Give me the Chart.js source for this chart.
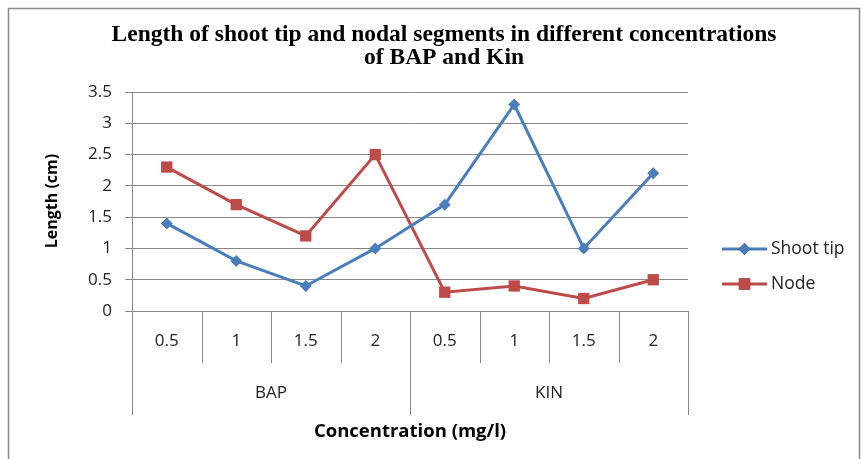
<!DOCTYPE html>
<html>
<head>
<meta charset="utf-8">
<title>Length of shoot tip and nodal segments</title>
<script src="https://cdn.jsdelivr.net/npm/chart.js@4"></script>
<style>
  html, body { margin: 0; padding: 0; background: #ffffff; }
  canvas { display: block; }
</style>
</head>
<body>
<canvas id="lengthChart" width="866" height="459"></canvas>
<script>
// concentrations (mg/l) for each growth regulator
const concentrations = ['0.5', '1', '1.5', '2', '0.5', '1', '1.5', '2'];
const hormones = ['BAP', 'KIN'];
const perHormone = 4;

// mean length (cm)
const shootTipLength = [1.4, 0.8, 0.4, 1.0, 1.7, 3.3, 1.0, 2.2];
const nodeLength = [2.3, 1.7, 1.2, 2.5, 0.3, 0.4, 0.2, 0.5];

const chartTitle = ['Length of shoot tip and nodal segments in different concentrations', 'of BAP and Kin'];
const yTitle = 'Length (cm)';
const xTitle = 'Concentration (mg/l)';

const AXIS_GREY = '#878787';
const LABEL_FONT = '"Open Sans", sans-serif';

const decorations = {
  id: 'decorations',
  beforeDraw(chart) {
    const ctx = chart.ctx;
    ctx.save();
    ctx.strokeStyle = '#8a8a8a';
    ctx.lineWidth = 1.5;
    ctx.strokeRect(8.5, 8.5, 851, 470);
    ctx.restore();
  },
  afterDraw(chart) {
    const ctx = chart.ctx;
    const x = chart.scales.x;
    const area = chart.chartArea;
    const step = x.getPixelForValue(1) - x.getPixelForValue(0);
    const edge = (i) => x.getPixelForValue(0) - step / 2 + i * step;

    ctx.save();
    // main title
    ctx.fillStyle = '#000000';
    ctx.textAlign = 'center';
    ctx.textBaseline = 'middle';
    ctx.font = 'bold 23.5px "Liberation Serif", serif';
    ctx.fillText(chartTitle[0], 444, 35);
    ctx.fillText(chartTitle[1], 444, 58);

    // two-level category axis
    const rowBottom = area.bottom + 52;
    const groupBottom = area.bottom + 104;
    ctx.strokeStyle = AXIS_GREY;
    ctx.lineWidth = 1;
    for (let i = 0; i <= concentrations.length; i++) {
      const px = Math.round(edge(i)) + 0.5;
      ctx.beginPath();
      ctx.moveTo(px, area.bottom);
      ctx.lineTo(px, i % perHormone === 0 ? groupBottom : rowBottom);
      ctx.stroke();
    }
    ctx.fillStyle = '#222222';
    ctx.font = '17px ' + LABEL_FONT;
    concentrations.forEach((c, i) => {
      ctx.fillText(c, x.getPixelForValue(i), area.bottom + 30);
    });
    hormones.forEach((h, g) => {
      const mid = (edge(g * perHormone) + edge((g + 1) * perHormone)) / 2;
      ctx.fillText(h, mid, area.bottom + 82);
    });

    // axis titles
    ctx.fillStyle = '#000000';
    ctx.font = 'bold 18.5px ' + LABEL_FONT;
    ctx.fillText(xTitle, (area.left + area.right) / 2, 432);
    ctx.font = 'bold 16px ' + LABEL_FONT;
    ctx.save();
    ctx.translate(52, 201);
    ctx.rotate(-Math.PI / 2);
    ctx.fillText(yTitle, 0, 0);
    ctx.restore();

    // legend: line with marker, then the series name
    const rows = [249, 284];
    chart.data.datasets.forEach((ds, i) => {
      const y = rows[i];
      ctx.strokeStyle = ds.borderColor;
      ctx.lineWidth = 3;
      ctx.beginPath();
      ctx.moveTo(722, y);
      ctx.lineTo(767, y);
      ctx.stroke();
      Chart.helpers.drawPoint(ctx, {
        pointStyle: ds.pointStyle,
        radius: ds.pointRadius,
        borderWidth: 0
      }, 744.5, y);
      ctx.fillStyle = ds.backgroundColor;
      ctx.fill();
      ctx.fillStyle = '#222222';
      ctx.textAlign = 'left';
      ctx.font = '17.5px ' + LABEL_FONT;
      ctx.fillText(ds.label, 771, y);
    });
    ctx.restore();
  }
};

new Chart(document.getElementById('lengthChart'), {
  type: 'line',
  data: {
    labels: concentrations,
    datasets: [
      {
        label: 'Shoot tip',
        data: shootTipLength,
        borderColor: '#4a7ebb',
        backgroundColor: '#4a7ebb',
        borderWidth: 3,
        pointStyle: 'rectRot',
        pointRadius: 6,
        pointBorderWidth: 0,
        tension: 0
      },
      {
        label: 'Node',
        data: nodeLength,
        borderColor: '#be4b48',
        backgroundColor: '#be4b48',
        borderWidth: 3,
        pointStyle: 'rect',
        pointRadius: 8,
        pointBorderWidth: 0,
        tension: 0
      }
    ]
  },
  options: {
    responsive: false,
    animation: false,
    layout: { padding: { left: 0, right: 178, top: 92, bottom: 44 } },
    scales: {
      x: {
        type: 'category',
        offset: true,
        grid: { display: false },
        border: { display: true, color: AXIS_GREY },
        ticks: { display: false },
        afterFit(scale) { scale.height = 104; }
      },
      y: {
        min: 0,
        max: 3.5,
        ticks: {
          stepSize: 0.5,
          color: '#222222',
          padding: 13,
          font: { family: LABEL_FONT, size: 17 },
          callback: (value) => String(value)
        },
        grid: { color: AXIS_GREY, tickLength: 7 },
        border: { display: true, color: AXIS_GREY },
        afterFit(scale) { scale.width = 132; }
      }
    },
    plugins: {
      legend: { display: false },
      title: { display: false },
      tooltip: { enabled: false }
    }
  },
  plugins: [decorations]
});
</script>
</body>
</html>
